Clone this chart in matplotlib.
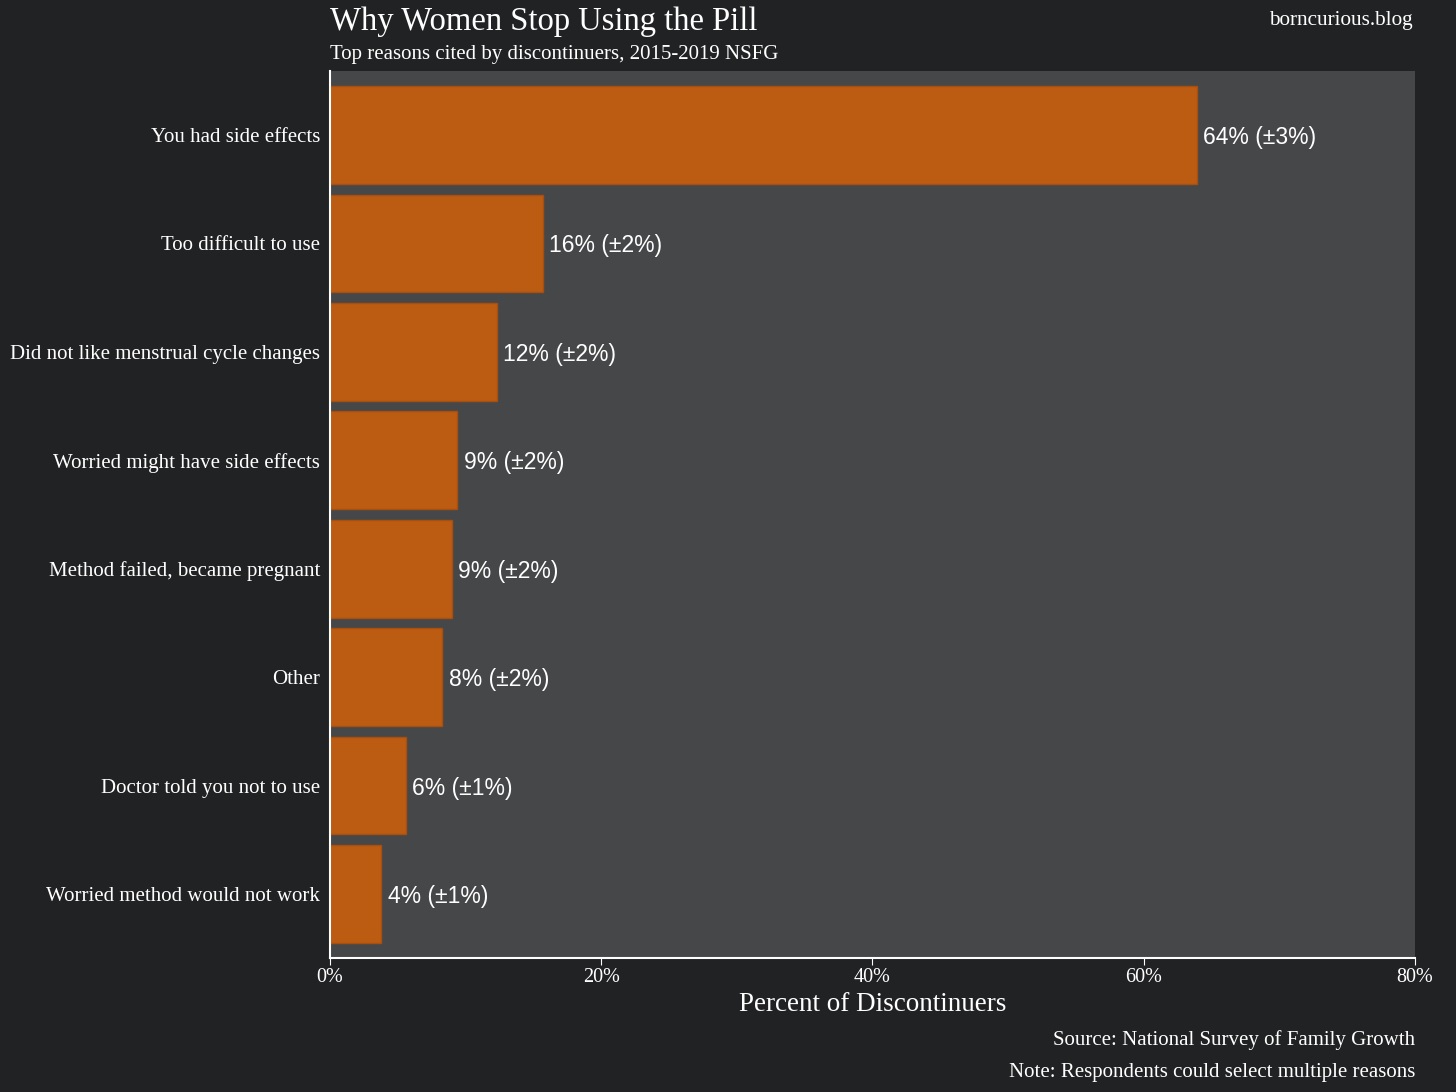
import matplotlib.pyplot as plt
from matplotlib.ticker import PercentFormatter

reasons = ['You had side effects', 'Too difficult to use',
           'Did not like menstrual cycle changes', 'Worried might have side effects',
           'Method failed, became pregnant', 'Other',
           'Doctor told you not to use', 'Worried method would not work']
percents = [63.9, 15.7, 12.3, 9.4, 9.0, 8.3, 5.6, 3.8]
errors = [3, 2, 2, 2, 2, 2, 1, 1]

fig_bg = '#212224'
ax_bg = '#464749'
bar_color = '#bc5b12'
serif = 'Liberation Serif'

fig = plt.figure(figsize=(14.56, 10.92), dpi=100, facecolor=fig_bg)
ax = fig.add_axes([0.2266, 0.1227, 0.9718 - 0.2266, 0.935 - 0.1227])
ax.set_facecolor(ax_bg)

y = list(range(len(reasons)))
ax.barh(y, percents, height=0.9, color=bar_color, edgecolor='#a84f0e', linewidth=1)
for yi, p, e in zip(y, percents, errors):
    ax.text(p + 0.45, yi, f'{round(p)}% (±{e}%)', va='center_baseline', ha='left',
            color='white', fontsize=16.5, family='Liberation Sans')

ax.set_ylim(len(reasons) - 1 + 0.59, -0.59)
ax.set_xlim(0, 80)
ax.set_yticks(y)
ax.set_yticklabels(reasons, family=serif, fontsize=15, color='white')
ax.set_xticks([0, 20, 40, 60, 80])
ax.xaxis.set_major_formatter(PercentFormatter(decimals=0))
for lab in ax.get_xticklabels():
    lab.set_family(serif)
    lab.set_fontsize(14.5)
    lab.set_color('white')
ax.tick_params(axis='y', length=0, pad=7)
ax.tick_params(axis='x', length=5, color='white', pad=2)
for s in ['top', 'right']:
    ax.spines[s].set_visible(False)
ax.spines['left'].set_color('white')
ax.spines['bottom'].set_color('white')
ax.spines['left'].set_linewidth(1.5)
ax.spines['bottom'].set_linewidth(1.5)

ax.set_xlabel('Percent of Discontinuers', family=serif, fontsize=19.5, color='white', labelpad=4)

fig.text(330 / 1456, 1 - 22 / 1092, 'Why Women Stop Using the Pill', family=serif,
         fontsize=23.5, color='white', va='center', ha='left')
fig.text(330 / 1456, 1 - 54 / 1092, 'Top reasons cited by discontinuers, 2015-2019 NSFG',
         family=serif, fontsize=15, color='white', va='center', ha='left')
fig.text(1413 / 1456, 1 - 21 / 1092, 'borncurious.blog', family=serif,
         fontsize=15.3, color='white', va='center', ha='right')
fig.text(1415 / 1456, 1 - 1040 / 1092, 'Source: National Survey of Family Growth',
         family=serif, fontsize=15, color='white', va='center', ha='right')
fig.text(1415 / 1456, 1 - 1072 / 1092, 'Note: Respondents could select multiple reasons',
         family=serif, fontsize=15, color='white', va='center', ha='right')

fig.savefig('out.png', dpi=100, facecolor=fig_bg)
